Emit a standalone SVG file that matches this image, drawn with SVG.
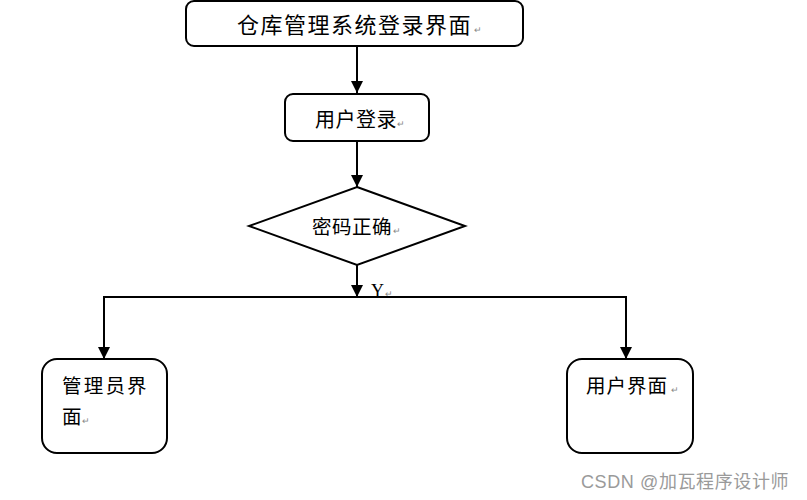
<svg xmlns="http://www.w3.org/2000/svg" width="807" height="500" viewBox="0 0 807 500">
<style>
.box{fill:#fff;stroke:#000;stroke-width:2}
.t{font-family:"Liberation Serif","Noto Sans CJK SC",serif;fill:#000}
.pm{font-family:"Liberation Sans","Noto Sans CJK SC",sans-serif;fill:#888;font-size:9px}
.c{fill:none;stroke:#000;stroke-width:2}
.wm{font-family:"Liberation Sans","Noto Sans CJK SC",sans-serif;fill:#9a9a9a;font-size:18px}
</style>
<defs>
<marker id="ah" viewBox="0 0 12 12" refX="12" refY="6" markerWidth="12" markerHeight="12" markerUnits="userSpaceOnUse" orient="auto">
<path d="M0,0 L12,6 L0,12 z" fill="#000"/>
</marker>
</defs>
<rect width="807" height="500" fill="#fff"/>
<g id="connectors">
<line class="c" x1="357" y1="46" x2="357" y2="93" marker-end="url(#ah)"/>
<line class="c" x1="357" y1="141" x2="357" y2="187" marker-end="url(#ah)"/>
<line class="c" x1="357" y1="265" x2="357" y2="297" marker-end="url(#ah)"/>
<polyline class="c" points="104,359 104,297 626,297 626,359"/>
<line class="c" x1="104" y1="340" x2="104" y2="359" marker-end="url(#ah)"/>
<line class="c" x1="626" y1="340" x2="626" y2="359" marker-end="url(#ah)"/>
<text class="t" x="371" y="297" font-size="18">Y</text><text class="pm" x="385" y="297">↵</text>
</g>
<g id="start">
<rect class="box" x="186" y="1" width="337" height="45" rx="8"/>
<text class="t" x="237" y="33" font-size="22" letter-spacing="1.5">仓库管理系统登录界面</text><text class="pm" x="474" y="33">↵</text>
</g>
<g id="login">
<rect class="box" x="285" y="94" width="144" height="47" rx="8"/>
<text class="t" x="315" y="127" font-size="20" letter-spacing="0.5">用户登录</text><text class="pm" x="397" y="127">↵</text>
</g>
<g id="check">
<polygon class="box" points="357,187 465,226 357,265 249,226"/>
<text class="t" x="312" y="234" font-size="19.5" letter-spacing="0.5">密码正确</text><text class="pm" x="393" y="234">↵</text>
</g>
<g id="admin">
<rect class="box" x="42" y="359" width="125" height="94" rx="15"/>
<text class="t" x="62" y="393" font-size="19.5" letter-spacing="2.2">管理员界</text>
<text class="t" x="62" y="424" font-size="19.5">面</text><text class="pm" x="82" y="424">↵</text>
</g>
<g id="user">
<rect class="box" x="567" y="359" width="126" height="94" rx="15"/>
<text class="t" x="586" y="393" font-size="19.5" letter-spacing="1">用户界面</text><text class="pm" x="671" y="393">↵</text>
</g>
<text class="wm" x="581" y="488" letter-spacing="0.6">CSDN @加瓦程序设计师</text>
</svg>
